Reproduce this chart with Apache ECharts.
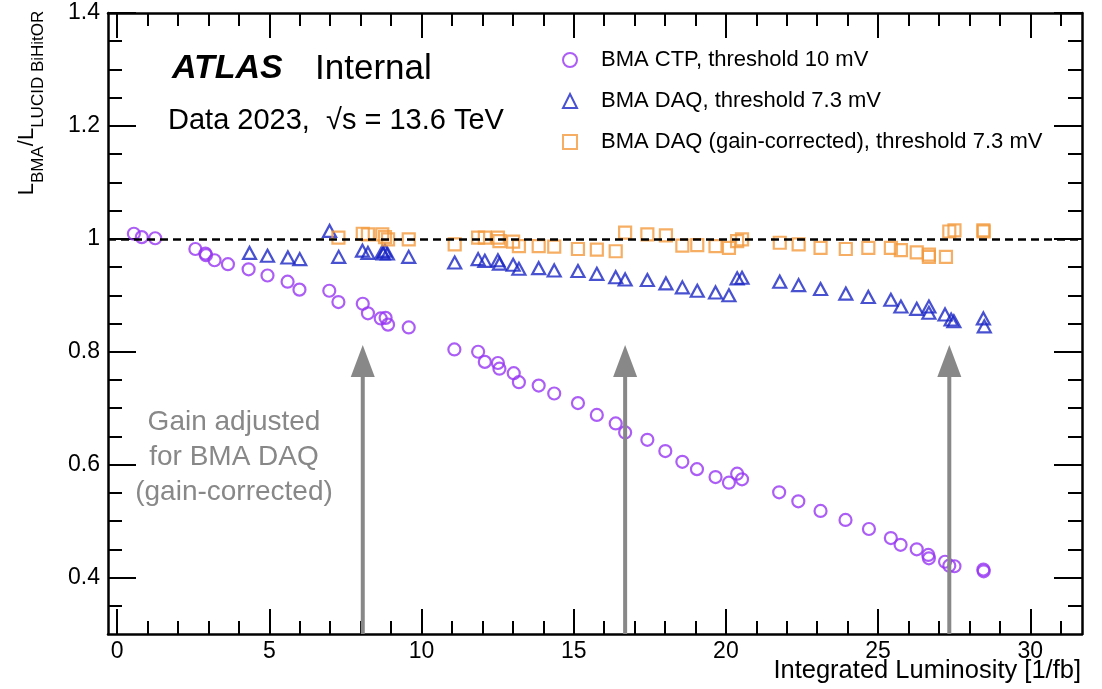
<!DOCTYPE html>
<html>
<head>
<meta charset="utf-8">
<script src="https://cdn.jsdelivr.net/npm/echarts@6/dist/echarts.min.js"></script>
<style>
html,body{margin:0;padding:0;background:#fff;}
#chart{width:1102px;height:689px;}
</style>
</head>
<body>
<div id="chart"></div>
<script>
// ---- data ----
const ctpX = [0.55,0.81,1.25,2.57,2.90,2.92,3.20,3.64,4.32,4.94,5.60,5.99,6.97,7.27,8.07,8.24,8.66,8.82,8.90,9.58,
  11.08,11.86,12.08,12.51,12.56,13.03,13.20,13.85,14.36,15.14,15.76,16.38,16.69,17.42,18.01,18.57,19.05,19.66,20.10,20.37,20.53,
  21.75,22.38,23.11,23.93,24.70,25.42,25.74,26.27,26.65,26.67,27.20,27.34,27.51,28.46,28.47];
const ctpY = [1.009,1.003,1.001,0.982,0.974,0.971,0.962,0.955,0.946,0.935,0.924,0.910,0.908,0.888,0.885,0.868,0.859,0.860,0.848,0.843,
  0.804,0.800,0.782,0.780,0.770,0.762,0.746,0.740,0.726,0.709,0.688,0.673,0.657,0.644,0.624,0.605,0.592,0.578,0.568,0.584,0.574,
  0.551,0.535,0.518,0.502,0.486,0.470,0.458,0.450,0.440,0.434,0.428,0.421,0.420,0.414,0.411];

const daqX = [4.35,4.94,5.61,6.00,6.98,7.28,8.06,8.24,8.71,8.74,8.80,8.88,9.58,
  11.09,11.86,12.08,12.51,12.56,13.01,13.20,13.85,14.36,15.14,15.76,16.38,16.69,17.42,18.03,18.57,19.06,19.66,20.10,20.37,20.53,
  21.77,22.39,23.11,23.94,24.68,25.42,25.75,26.27,26.67,26.67,27.20,27.40,27.49,28.46,28.49];
const daqY = [0.975,0.970,0.967,0.964,1.014,0.968,0.979,0.975,0.977,0.974,0.979,0.974,0.968,
  0.958,0.964,0.961,0.962,0.956,0.954,0.947,0.948,0.944,0.943,0.938,0.932,0.928,0.927,0.921,0.914,0.908,0.905,0.900,0.930,0.931,
  0.924,0.918,0.911,0.903,0.897,0.892,0.880,0.876,0.880,0.869,0.866,0.857,0.854,0.859,0.845];

const gcX = [7.27,8.07,8.24,8.71,8.80,8.90,9.58,
  11.09,11.86,12.08,12.51,12.56,13.01,13.20,13.85,14.36,15.14,15.76,16.38,16.69,17.42,18.03,18.57,19.06,19.66,20.10,20.37,20.53,
  21.77,22.39,23.11,23.94,24.68,25.42,25.75,26.27,26.67,26.67,27.23,27.34,27.51,28.46,28.47];
const gcY = [1.002,1.009,1.008,1.008,1.003,0.999,0.999,
  0.990,1.002,1.002,1.002,0.996,0.995,0.987,0.987,0.986,0.982,0.981,0.978,1.011,1.008,1.006,0.988,0.989,0.987,0.984,0.996,0.999,
  0.993,0.990,0.984,0.982,0.984,0.984,0.980,0.976,0.972,0.968,0.968,1.013,1.015,1.015,1.013];

const seriesNames = ['BMA CTP, threshold 10 mV','BMA DAQ, threshold 7.3 mV','BMA DAQ (gain-corrected), threshold 7.3 mV'];

const arrowX = [8.07, 16.69, 27.34];
const arrowTipY = [0.812, 0.812, 0.812];
const refLevel = 1;

const xMajorTicks = [0,5,10,15,20,25,30];
const xMinorTicks = [1,2,3,4,6,7,8,9,11,12,13,14,16,17,18,19,21,22,23,24,26,27,28,29,31];
const yMajorTicks = [0.4,0.6,0.8,1.0,1.2,1.4];
const yMinorTicks = [0.35,0.45,0.5,0.55,0.65,0.7,0.75,0.85,0.9,0.95,1.05,1.1,1.15,1.25,1.3,1.35];

const xRange = [-0.3, 31.7];
const yRange = [0.3, 1.4];

// ---- chart ----
const FONT = '"Liberation Sans", Arial, Helvetica, sans-serif';
const colCTP = '#9635f2', colDAQ = '#1a26c4', colGC = '#f29a3c';
const zip = (a, b) => a.map((v, i) => [v, b[i]]);

function xAxisDef(pos, ticks, len, showLine, showLabel) {
  return {
    type: 'value', position: pos, min: xRange[0], max: xRange[1], offset: 0,
    axisLine: {show: showLine, onZero: false, lineStyle: {color: '#000', width: 2.5}},
    axisTick: {show: true, inside: true, length: len, customValues: ticks, lineStyle: {color: '#000', width: 2}},
    axisLabel: showLabel ? {show: true, customValues: ticks, margin: 6, color: '#000', fontSize: 23, fontFamily: FONT} : {show: false},
    splitLine: {show: false}
  };
}
function yAxisDef(pos, ticks, len, showLine, showLabel) {
  return {
    type: 'value', position: pos, min: yRange[0], max: yRange[1], offset: 0,
    axisLine: {show: showLine, onZero: false, lineStyle: {color: '#000', width: 2.5}},
    axisTick: {show: true, inside: true, length: len, customValues: ticks, lineStyle: {color: '#000', width: 2}},
    axisLabel: showLabel ? {show: true, customValues: ticks, margin: 8, color: '#000', fontSize: 23, fontFamily: FONT,
      formatter: v => String(+(+v).toFixed(2))} : {show: false},
    splitLine: {show: false}
  };
}

const chart = echarts.init(document.getElementById('chart'), null, {renderer: 'canvas'});
chart.setOption({
  animation: false,
  backgroundColor: '#fff',
  grid: {left: 108, right: 20, top: 13, bottom: 55, containLabel: false, outerBoundsMode: 'none'},
  xAxis: [
    xAxisDef('bottom', xMajorTicks, 25, true, true),
    xAxisDef('bottom', xMinorTicks, 13, false, false),
    xAxisDef('top', xMajorTicks, 25, true, false),
    xAxisDef('top', xMinorTicks, 13, false, false)
  ],
  yAxis: [
    yAxisDef('left', yMajorTicks, 28, true, true),
    yAxisDef('left', yMinorTicks, 14, false, false),
    yAxisDef('right', yMajorTicks, 28, true, false),
    yAxisDef('right', yMinorTicks, 14, false, false)
  ],
  legend: {
    orient: 'vertical', left: 557, top: 44, itemWidth: 14, itemHeight: 14, itemGap: 19,
    textStyle: {fontSize: 22, fontFamily: FONT, color: '#000', lineHeight: 22, padding: [0, 0, 0, 19]},
    data: seriesNames
  },
  graphic: [
    {type: 'text', left: 172, top: 52, style: {text: 'ATLAS', font: 'italic bold 34px ' + FONT, fill: '#000'}},
    {type: 'text', left: 315, top: 52, style: {text: 'Internal', font: '35px ' + FONT, fill: '#000'}},
    {type: 'text', left: 168, top: 106, style: {text: 'Data 2023,  \u221As = 13.6 TeV', font: '29px ' + FONT, fill: '#000'}},
    {type: 'text', right: 21, top: 658, style: {text: 'Integrated Luminosity [1/fb]', font: '25.5px ' + FONT, fill: '#000'}},
    {type: 'text', x: 234, y: 457, style: {text: 'Gain adjusted\nfor BMA DAQ\n(gain-corrected)', font: '28px ' + FONT,
      fill: '#888', align: 'center', verticalAlign: 'middle', lineHeight: 35}},
    {type: 'text', x: 31, y: 103, rotation: Math.PI / 2,
      style: {
        text: '{L|L}{s|BMA}{L|/L}{s|LUCID BiHitOR}', align: 'center', verticalAlign: 'middle',
        rich: {
          L: {fontSize: 22, fontFamily: FONT, fill: '#000', verticalAlign: 'top', lineHeight: 31},
          s: {fontSize: 17, fontFamily: FONT, fill: '#000', verticalAlign: 'bottom', lineHeight: 31}
        }
      }}
  ],
  series: [
    {
      name: seriesNames[0], type: 'scatter', data: zip(ctpX, ctpY), symbol: 'circle', symbolSize: 12,
      itemStyle: {color: 'rgba(0,0,0,0)', borderColor: colCTP, borderWidth: 2.2}, z: 3,
      markLine: {silent: true, symbol: 'none', label: {show: false},
        lineStyle: {color: '#000', width: 2.5, type: [8, 5]}, data: [{yAxis: refLevel}]}
    },
    {
      name: seriesNames[1], type: 'scatter', data: zip(daqX, daqY), symbol: 'triangle', symbolSize: [13, 12],
      itemStyle: {color: 'rgba(0,0,0,0)', borderColor: colDAQ, borderWidth: 2.2}, z: 3
    },
    {
      name: seriesNames[2], type: 'scatter', data: zip(gcX, gcY), symbol: 'rect', symbolSize: 12,
      itemStyle: {color: 'rgba(0,0,0,0)', borderColor: colGC, borderWidth: 2.2}, z: 3
    },
    {
      type: 'custom', z: 5, silent: true, data: zip(arrowX, arrowTipY),
      renderItem: function (params, api) {
        const tip = api.coord([api.value(0), api.value(1)]);
        const base = api.coord([api.value(0), yRange[0]]);
        const headH = 32, headW = 24;
        return {type: 'group', children: [
          {type: 'line', shape: {x1: tip[0], y1: tip[1] + headH - 2, x2: base[0], y2: base[1]},
            style: {stroke: '#888', lineWidth: 4}},
          {type: 'polygon', shape: {points: [[tip[0], tip[1]], [tip[0] - headW / 2, tip[1] + headH], [tip[0] + headW / 2, tip[1] + headH]]},
            style: {fill: '#888'}}
        ]};
      }
    }
  ]
});
</script>
</body>
</html>
